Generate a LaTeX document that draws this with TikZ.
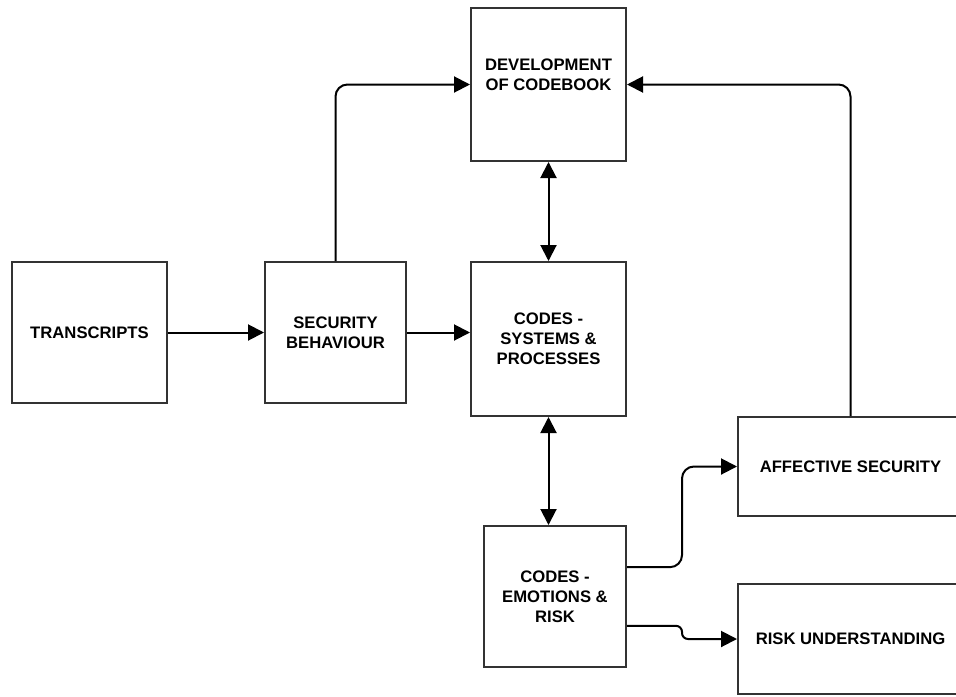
\documentclass[tikz,border=0pt]{standalone}
\usepackage{fontspec}
\setmainfont{Liberation Sans}
\usetikzlibrary{arrows.meta}

\begin{document}
\begin{tikzpicture}[x=0.75pt, y=-0.75pt,
    codebox/.style={draw=black!80, line width=1.5pt, align=center, inner sep=0pt,
        font=\bfseries\fontsize{12.5}{15}\selectfont},
    link/.style={-{Triangle[length=12pt,width=12pt]}, line width=1.5pt, rounded corners=9pt},
    twoway/.style={{Triangle[length=12pt,width=12pt]}-{Triangle[length=12pt,width=12pt]}, line width=1.5pt}]
    \useasboundingbox (0,0) rectangle (956,696);
    \clip (0,0) rectangle (956,696);
    \node [codebox, minimum width=116.25pt, minimum height=105.75pt] (trans) at (89.5,332.5) {TRANSCRIPTS};
    \node [codebox, minimum width=105.75pt, minimum height=105.75pt] (secb) at (335.5,332.5) {SECURITY\\BEHAVIOUR};
    \node [codebox, minimum width=116.25pt, minimum height=115.5pt] (codesys) at (548.5,339) {CODES -\\SYSTEMS \&\\PROCESSES};
    \node [codebox, minimum width=116.25pt, minimum height=114.75pt] (devcb) at (548.5,84.5) {DEVELOPMENT\\OF CODEBOOK\\\mbox{}};
    \node [codebox, minimum width=106.5pt, minimum height=105.75pt] (emot) at (555,596.5) {CODES -\\EMOTIONS \&\\RISK};
    \node [codebox, minimum width=168.75pt, minimum height=74.25pt] (affsec) at (850.5,466.5) {AFFECTIVE SECURITY};
    \node [codebox, minimum width=168.75pt, minimum height=82.5pt] (risk) at (850.5,639) {RISK UNDERSTANDING};
    % main flow
    \draw [link] (trans.east) -- (secb.west);
    \draw [link] (secb.east) -- (secb.east -| codesys.west);
    \draw [link] (secb.north) |- (devcb.west);
    \draw [link] (affsec.north) |- (devcb.east);
    \draw [twoway] (devcb.south) -- (codesys.north);
    \draw [twoway] (codesys.south) -- (codesys.south |- emot.north);
    % outcomes
    \draw [link] ([yshift=22pt]emot.east) -- ++(55,0) |- (affsec.west);
    \draw [link, rounded corners=4.5pt] ([yshift=-22pt]emot.east) -- ++(55,0) |- (risk.west);
\end{tikzpicture}
\end{document}
